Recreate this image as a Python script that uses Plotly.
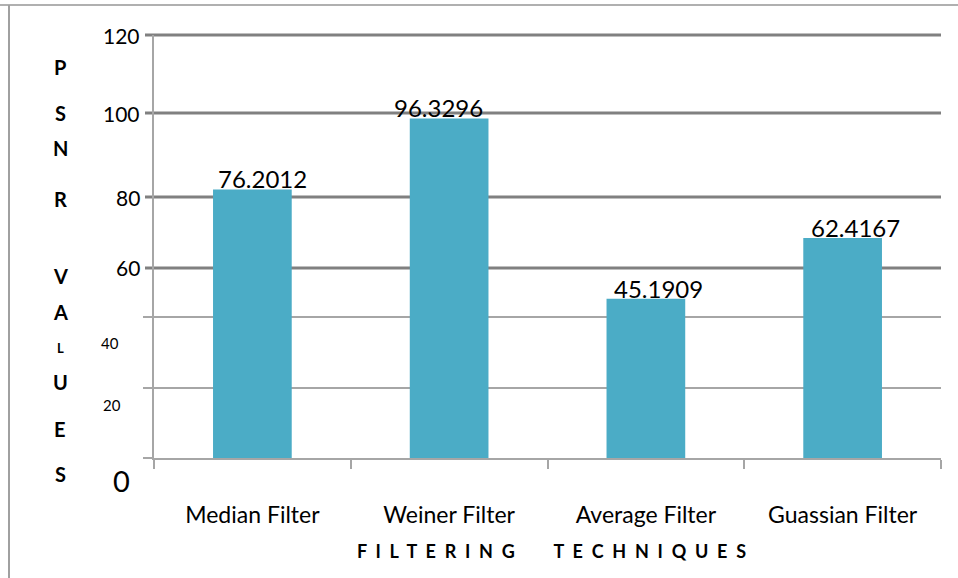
import plotly.graph_objects as go

# PSNR values per filtering technique
techniques = ["Median Filter", "Weiner Filter", "Average Filter", "Guassian Filter"]
psnr_values = [76.2012, 96.3296, 45.1909, 62.4167]

# Y tick labels as printed beside the value axis
y_tick_labels = ["120", "100", "80", "60", "40", "20", "0"]

# Vertical title, one letter per row
y_title_letters = ["P", "S", "N", "R", "V", "A", "L", "U", "E", "S"]
x_title = "FILTERING TECHNIQUES"

BAR_COLOR = "#4bacc6"
AXIS_GREY = "#a6a6a6"
GRID_DARK = "#808080"
FONT = "Lato"

W, H = 958, 578
L, R, T, B = 154, 17, 35, 120
PW, PH = W - L - R, H - T - B


def px_x(px):
    """Convert a page x pixel to paper coordinates."""
    return (px - L) / PW


def px_y(py):
    """Convert a page y pixel to paper coordinates."""
    return (H - B - py) / PH


fig = go.Figure(
    go.Bar(
        x=techniques,
        y=psnr_values,
        marker=dict(color=BAR_COLOR, line=dict(width=0)),
        hoverinfo="x+y",
    )
)

shapes = []
# heavy gridlines carrying the large tick labels
heavy_rows = [35, 113, 197, 268]
for py in heavy_rows:
    shapes.append(dict(type="line", xref="paper", yref="paper",
                       x0=px_x(145), x1=1.0, y0=px_y(py), y1=px_y(py),
                       line=dict(color=GRID_DARK, width=3), layer="below"))

# outer frame (top and left edges)
shapes.append(dict(type="line", xref="paper", yref="paper",
                   x0=px_x(0), x1=px_x(W), y0=px_y(5), y1=px_y(5),
                   line=dict(color="#b0b0b0", width=2)))
shapes.append(dict(type="line", xref="paper", yref="paper",
                   x0=px_x(9), x1=px_x(9), y0=px_y(5), y1=px_y(H + 5),
                   line=dict(color="#a0a0a0", width=2)))

annotations = []

# value labels above each bar
label_shift = [10, -11, 13, 13]
for cat, val, dx in zip(techniques, psnr_values, label_shift):
    annotations.append(dict(x=cat, y=val, xref="x", yref="y",
                            text=f"{val:.4f}", showarrow=False,
                            xanchor="center", yanchor="bottom",
                            xshift=dx, yshift=-6,
                            font=dict(family=FONT, size=24, color="#000")))

# y tick labels: (page x of anchor, anchor, page y centre, font size)
tick_layout = [
    (142, "right", 35, 21),
    (142, "right", 113, 21),
    (142, "right", 197, 21),
    (142, "right", 267, 21),
    (110, "center", 343, 15),
    (112, "center", 405, 15),
    (121, "center", 480, 29),
]
for text, (tx, anchor, ty, size) in zip(y_tick_labels, tick_layout):
    annotations.append(dict(x=px_x(tx), y=px_y(ty), xref="paper", yref="paper",
                            text=text, showarrow=False,
                            xanchor=anchor, yanchor="middle",
                            font=dict(family=FONT, size=size, color="#000")))

# vertical axis title letters
letter_rows = [67, 113, 148, 199, 276, 312, 348, 382, 429, 474]
for ch, ly in zip(y_title_letters, letter_rows):
    size = 13 if ch == "L" else 20
    annotations.append(dict(x=px_x(60), y=px_y(ly), xref="paper", yref="paper",
                            text=f"<b>{ch}</b>", showarrow=False,
                            xanchor="center", yanchor="middle",
                            font=dict(family=FONT, size=size, color="#000")))

# spaced-out horizontal axis title
nb = "\u00a0"
words = x_title.split(" ")
spaced = (nb * 9).join((nb * 2).join(w) for w in words)
annotations.append(dict(x=px_x(551), y=px_y(551), xref="paper", yref="paper",
                        text=f"<b>{spaced}</b>", showarrow=False,
                        xanchor="center", yanchor="middle",
                        font=dict(family=FONT, size=18, color="#000")))

fig.update_layout(
    width=W, height=H,
    margin=dict(l=L, r=R, t=T, b=B, pad=0),
    paper_bgcolor="white", plot_bgcolor="white",
    bargap=0.6,
    showlegend=False,
    shapes=shapes,
    annotations=annotations,
    font=dict(family=FONT, color="#000"),
    xaxis=dict(
        type="category",
        categoryorder="array", categoryarray=techniques,
        range=[-0.5, 3.5],
        tickson="boundaries",
        ticks="outside", ticklen=9, tickwidth=2, tickcolor=AXIS_GREY,
        showline=True, linecolor=AXIS_GREY, linewidth=2,
        showgrid=False, zeroline=False,
        tickfont=dict(family=FONT, size=23, color="#000"),
        ticklabelstandoff=35,
        fixedrange=True,
    ),
    yaxis=dict(
        range=[0, 120],
        tickmode="array", tickvals=[0, 20, 40],
        showticklabels=False,
        ticks="outside", ticklen=9, tickwidth=2, tickcolor=AXIS_GREY,
        showgrid=True, gridcolor=AXIS_GREY, gridwidth=2,
        showline=True, linecolor=AXIS_GREY, linewidth=2,
        zeroline=False,
        fixedrange=True,
    ),
)

fig.write_html("out.html", config={"displayModeBar": False})
